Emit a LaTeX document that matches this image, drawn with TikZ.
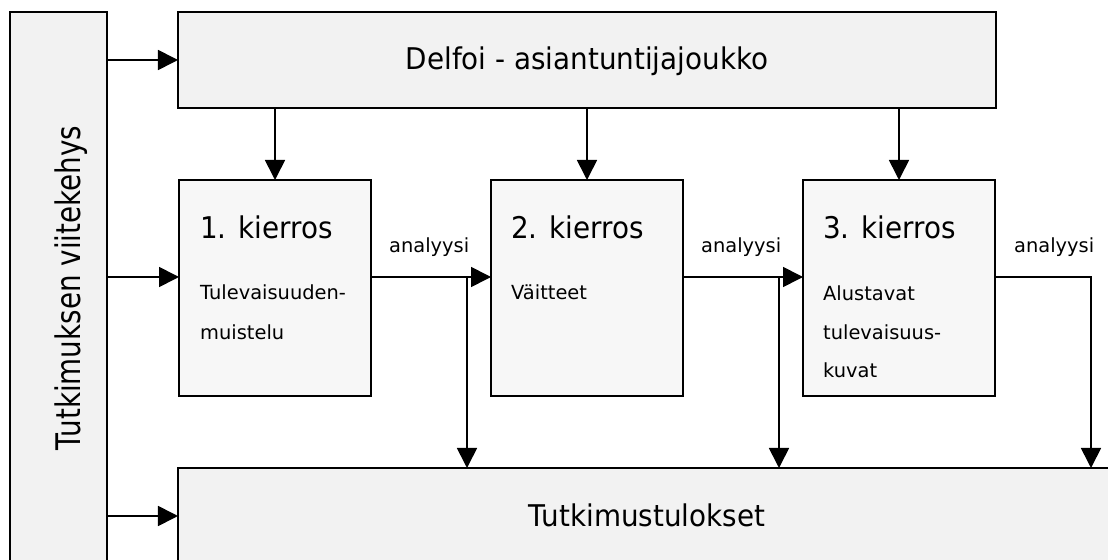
\documentclass[tikz,border=0pt]{standalone}
\usepackage{fontspec}
\setmainfont{DejaVu Sans}
\newfontfamily\tallfont[FakeStretch=0.82]{DejaVu Sans}
\newfontfamily\titlefont[FakeStretch=0.93]{DejaVu Sans}
\usetikzlibrary{arrows.meta}
\definecolor{boxgray}{HTML}{F2F2F2}
\definecolor{roundgray}{HTML}{F7F7F7}
\tikzset{
  frame/.style={draw=black, line width=1.7bp, fill=boxgray, inner sep=0pt, outer sep=0pt},
  roundbox/.style={draw=black, line width=1.7bp, fill=roundgray, inner sep=0pt, outer sep=0pt,
    minimum width=192bp, minimum height=216bp},
  link/.style={line width=1.7bp, -{Triangle[length=20bp,width=20bp]}},
  bigtext/.style={inner sep=0pt, font=\titlefont\fontsize{30}{36}\selectfont},
  smalltext/.style={inner sep=0pt, font=\fontsize{19.5}{23}\selectfont},
}
\begin{document}
\begin{tikzpicture}[x=1bp, y=-1bp]
\clip (0,0) rectangle (1108,560);
\fill[white] (0,0) rectangle (1108,560);

% framework column and the two wide boxes
\node[frame, minimum width=97bp, minimum height=568bp] (frame) at (58.5,296) {};
\node[frame, minimum width=818bp, minimum height=96bp] (delfoi) at (587,60) {};
\node[frame, minimum width=938bp, minimum height=102bp] (results) at (647,519) {};

% the three rounds
\node[roundbox] (r1) at (275,288) {};
\node[roundbox] (r2) at (587,288) {};
\node[roundbox] (r3) at (899,288) {};

% texts
\node[anchor=base, rotate=90, inner sep=0pt, font=\tallfont\fontsize{34}{40}\selectfont] (frametext) at (80,288) {Tutkimuksen viitekehys};
\node[bigtext, anchor=base] (delfoitext) at (587,70) {Delfoi - asiantuntijajoukko};
\node[bigtext, anchor=base] (resultstext) at (647,526) {Tutkimustulokset};

\node[bigtext, anchor=base west] (t1) at (200,239) {1. kierros};
\node[bigtext, anchor=base west] (t2) at (511,239) {2. kierros};
\node[bigtext, anchor=base west] (t3) at (823,239) {3. kierros};

\node[smalltext, anchor=base west] (s1a) at (200,300) {Tulevaisuuden-};
\node[smalltext, anchor=base west] (s1b) at (200,340) {muistelu};
\node[smalltext, anchor=base west] (s2a) at (511,300) {Väitteet};
\node[smalltext, anchor=base west] (s3a) at (823,301) {Alustavat};
\node[smalltext, anchor=base west] (s3b) at (823,340) {tulevaisuus-};
\node[smalltext, anchor=base west] (s3c) at (823,378) {kuvat};

\node[smalltext, anchor=base west] (a1) at (389,253) {analyysi};
\node[smalltext, anchor=base west] (a2) at (701,253) {analyysi};
\node[smalltext, anchor=base west] (a3) at (1014,253) {analyysi};

% framework feeds everything on the right
\draw[link] (frame.east |- delfoi.west) -- (delfoi.west);
\draw[link] (frame.east |- 0,277) -- (r1.west |- 0,277);
\draw[link] (frame.east |- 0,516) -- (results.west |- 0,516);

% experts to each round
\draw[link] (r1.north |- delfoi.south) -- (r1.north);
\draw[link] (r2.north |- delfoi.south) -- (r2.north);
\draw[link] (r3.north |- delfoi.south) -- (r3.north);

% analysis steps
\coordinate (j1) at (467,277);
\coordinate (j2) at (779,277);
\coordinate (j3) at (1091,277);
\draw[link] (r1.east |- j1) -- (r2.west |- j1);
\draw[link] (j1) -- (j1 |- results.north);
\draw[link] (r2.east |- j2) -- (r3.west |- j2);
\draw[link] (j2) -- (j2 |- results.north);
\draw[link] (r3.east |- j3) -- (j3) -- (j3 |- results.north);
\end{tikzpicture}
\end{document}
